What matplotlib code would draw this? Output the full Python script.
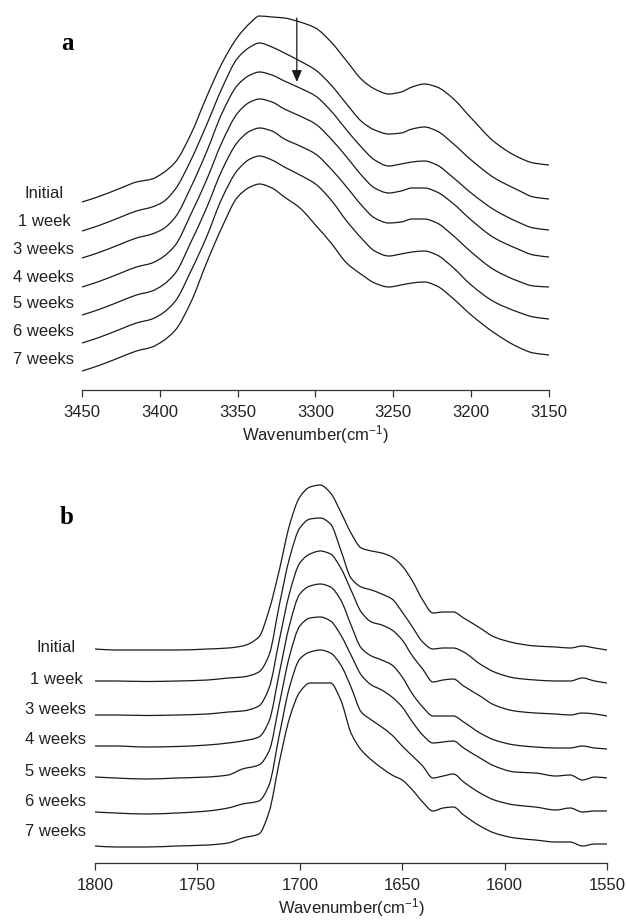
import numpy as np
import matplotlib
matplotlib.use("Agg")
import matplotlib.pyplot as plt
from matplotlib.path import Path
from matplotlib.patches import PathPatch

plt.rcParams["font.family"] = ["Liberation Sans", "DejaVu Sans"]
plt.rcParams["mathtext.fontset"] = "custom"
plt.rcParams["mathtext.rm"] = "Liberation Sans"
plt.rcParams["mathtext.default"] = "regular"

labels = ["Initial", "1 week", "3 weeks", "4 weeks", "5 weeks", "6 weeks", "7 weeks"]

# panel a: N-H stretching region (absorbance, a.u.)
wn_a = [3450, 3440, 3425, 3415, 3405, 3398, 3390, 3380, 3370, 3360, 3350, 3342,
        3336, 3328, 3320, 3310, 3300, 3290, 3280, 3270, 3262, 3253, 3245, 3238,
        3230, 3222, 3212, 3200, 3185, 3170, 3160, 3150]
nh_initial = [0.10, 0.15, 0.24, 0.30, 0.33, 0.39, 0.50, 0.78, 1.15, 1.49, 1.75, 1.89,
              1.96, 1.95, 1.94, 1.90, 1.84, 1.70, 1.51, 1.32, 1.23, 1.18, 1.20, 1.25,
              1.28, 1.25, 1.14, 0.94, 0.70, 0.55, 0.49, 0.47]
nh_1wk = [0.09, 0.14, 0.23, 0.29, 0.33, 0.38, 0.51, 0.80, 1.15, 1.52, 1.82, 1.93,
          1.97, 1.93, 1.87, 1.79, 1.70, 1.55, 1.36, 1.18, 1.10, 1.06, 1.07, 1.11,
          1.13, 1.09, 0.97, 0.80, 0.62, 0.50, 0.43, 0.41]
nh_3wk = [0.10, 0.15, 0.24, 0.30, 0.34, 0.39, 0.51, 0.81, 1.16, 1.55, 1.83, 1.93,
          1.96, 1.93, 1.87, 1.80, 1.72, 1.57, 1.38, 1.20, 1.08, 1.02, 1.04, 1.06,
          1.07, 1.03, 0.91, 0.75, 0.58, 0.46, 0.40, 0.38]
nh_4wk = [0.09, 0.14, 0.23, 0.29, 0.33, 0.39, 0.51, 0.82, 1.16, 1.54, 1.83, 1.94,
          1.97, 1.94, 1.87, 1.80, 1.72, 1.57, 1.39, 1.20, 1.08, 1.03, 1.05, 1.08,
          1.08, 1.04, 0.93, 0.76, 0.58, 0.47, 0.41, 0.39]
nh_5wk = [0.09, 0.14, 0.23, 0.29, 0.33, 0.39, 0.51, 0.82, 1.16, 1.54, 1.82, 1.93,
          1.96, 1.93, 1.85, 1.78, 1.70, 1.55, 1.37, 1.18, 1.06, 1.01, 1.02, 1.05,
          1.05, 1.01, 0.89, 0.72, 0.54, 0.43, 0.38, 0.37]
nh_6wk = [0.09, 0.14, 0.23, 0.29, 0.33, 0.39, 0.51, 0.81, 1.15, 1.54, 1.82, 1.93,
          1.96, 1.92, 1.85, 1.77, 1.68, 1.52, 1.31, 1.13, 1.01, 0.96, 0.98, 1.00,
          1.01, 0.97, 0.85, 0.67, 0.50, 0.40, 0.35, 0.33]
nh_7wk = [0.09, 0.14, 0.23, 0.29, 0.33, 0.39, 0.50, 0.78, 1.17, 1.53, 1.83, 1.93,
          1.96, 1.92, 1.83, 1.72, 1.55, 1.37, 1.17, 1.05, 0.97, 0.93, 0.95, 0.97,
          0.98, 0.94, 0.82, 0.65, 0.47, 0.33, 0.27, 0.25]

# panel b: amide I region
wn_b = [1800, 1790, 1775, 1760, 1745, 1735, 1728, 1720, 1715, 1710, 1705, 1700,
        1695, 1690, 1685, 1680, 1675, 1670, 1665, 1660, 1655, 1650, 1645, 1640,
        1635, 1630, 1625, 1620, 1612, 1605, 1595, 1585, 1575, 1568, 1562, 1556, 1550]
am_initial = [0.03, 0.02, 0.02, 0.02, 0.03, 0.04, 0.06, 0.15, 0.42, 0.82, 1.27, 1.55,
              1.65, 1.67, 1.59, 1.40, 1.19, 1.04, 1.01, 0.99, 0.95, 0.86, 0.71, 0.52,
              0.39, 0.40, 0.40, 0.34, 0.24, 0.15, 0.09, 0.06, 0.05, 0.04, 0.06, 0.04, 0.02]
am_1wk = [0.04, 0.04, 0.035, 0.04, 0.05, 0.07, 0.08, 0.13, 0.30, 0.80, 1.27, 1.57,
          1.66, 1.67, 1.61, 1.35, 1.07, 0.98, 0.95, 0.91, 0.86, 0.73, 0.58, 0.43,
          0.36, 0.37, 0.37, 0.33, 0.21, 0.13, 0.07, 0.05, 0.04, 0.04, 0.07, 0.04, 0.02]
am_3wk = [0.03, 0.03, 0.025, 0.03, 0.04, 0.06, 0.07, 0.12, 0.30, 0.78, 1.25, 1.55,
          1.64, 1.67, 1.64, 1.50, 1.28, 1.06, 0.96, 0.93, 0.88, 0.78, 0.62, 0.49,
          0.36, 0.38, 0.39, 0.32, 0.22, 0.13, 0.07, 0.05, 0.04, 0.03, 0.05, 0.04, 0.02]
am_4wk = [0.05, 0.05, 0.04, 0.045, 0.06, 0.08, 0.10, 0.14, 0.30, 0.78, 1.26, 1.57,
          1.65, 1.67, 1.64, 1.51, 1.26, 1.03, 0.95, 0.91, 0.86, 0.74, 0.57, 0.44,
          0.35, 0.35, 0.35, 0.29, 0.18, 0.11, 0.06, 0.04, 0.03, 0.03, 0.05, 0.03, 0.02]
am_5wk = [0.07, 0.06, 0.05, 0.06, 0.07, 0.09, 0.15, 0.19, 0.33, 0.80, 1.28, 1.58,
          1.66, 1.67, 1.63, 1.49, 1.29, 1.09, 0.99, 0.94, 0.87, 0.77, 0.62, 0.49,
          0.41, 0.42, 0.43, 0.36, 0.26, 0.18, 0.12, 0.11, 0.08, 0.09, 0.04, 0.07, 0.06]
am_6wk = [0.05, 0.04, 0.03, 0.04, 0.06, 0.09, 0.13, 0.16, 0.32, 0.82, 1.30, 1.58,
          1.65, 1.67, 1.64, 1.52, 1.30, 1.05, 0.97, 0.90, 0.82, 0.71, 0.61, 0.51,
          0.39, 0.41, 0.43, 0.35, 0.24, 0.17, 0.12, 0.10, 0.07, 0.09, 0.05, 0.06, 0.06]
am_7wk = [0.04, 0.03, 0.03, 0.04, 0.05, 0.07, 0.12, 0.16, 0.38, 0.88, 1.32, 1.58,
          1.67, 1.67, 1.67, 1.50, 1.17, 1.00, 0.90, 0.82, 0.75, 0.70, 0.60, 0.48,
          0.39, 0.42, 0.43, 0.35, 0.24, 0.17, 0.12, 0.10, 0.08, 0.08, 0.04, 0.06, 0.06]

ticks_a = [3450, 3400, 3350, 3300, 3250, 3200, 3150]
ticks_b = [1800, 1750, 1700, 1650, 1600, 1550]

W, H = 626, 924
LINE = "#1a1a1a"


def px_rect(left, top, right, bottom):
    return [left / W, 1 - bottom / H, (right - left) / W, (bottom - top) / H]


def tangents(x, y):
    # monotone (Fritsch-Carlson) slopes, so the path does not overshoot
    h = np.diff(x)
    d = np.diff(y) / h
    m = np.zeros_like(y)
    m[0], m[-1] = d[0], d[-1]
    for k in range(1, len(x) - 1):
        if d[k - 1] * d[k] > 0:
            w1 = 2 * h[k] + h[k - 1]
            w2 = h[k] + 2 * h[k - 1]
            m[k] = (w1 + w2) / (w1 / d[k - 1] + w2 / d[k])
    return m


def smooth_line(ax, x, y, **kw):
    # bezier path through the read points
    x = np.asarray(x, float)
    y = np.asarray(y, float)
    m = tangents(x, y)
    verts = [(x[0], y[0])]
    codes = [Path.MOVETO]
    for k in range(len(x) - 1):
        h = x[k + 1] - x[k]
        verts += [(x[k] + h / 3, y[k] + m[k] * h / 3),
                  (x[k + 1] - h / 3, y[k + 1] - m[k + 1] * h / 3),
                  (x[k + 1], y[k + 1])]
        codes += [Path.CURVE4] * 3
    ax.add_patch(PathPatch(Path(verts, codes), fill=False, **kw))


def draw_panel(ax, wn, spectra, step, xlim, ylim, ticks, label_x, label_y):
    n = len(spectra)
    for i, spec in enumerate(spectra):
        smooth_line(ax, wn, np.array(spec) + (n - 1 - i) * step,
                    edgecolor=LINE, lw=0.9)
        ax.text(label_x, label_y[i], labels[i], transform=ax.get_yaxis_transform(),
                ha="center", va="center", fontsize=12, color="#222222")
    ax.set_xlim(*xlim)
    ax.set_ylim(*ylim)
    for s in ["left", "right", "top"]:
        ax.spines[s].set_visible(False)
    ax.spines["bottom"].set_color("#333333")
    ax.spines["bottom"].set_linewidth(0.9)
    ax.set_yticks([])
    ax.set_xticks(ticks)
    ax.set_xticklabels([str(t) for t in ticks])
    ax.tick_params(axis="x", direction="out", length=5, width=0.9, color="#333333",
                   labelsize=12, pad=6, labelcolor="#222222")
    ax.set_xlabel("Wavenumber(cm$^{-1}$)", fontsize=12, labelpad=2, color="#222222")


fig = plt.figure(figsize=(W / 100, H / 100), dpi=100)

ax_a = fig.add_axes(px_rect(82, 8, 549, 390))
spec_a = [nh_initial, nh_1wk, nh_3wk, nh_4wk, nh_5wk, nh_6wk, nh_7wk]
label_y_a = [1.87, 1.59, 1.31, 1.03, 0.76, 0.48, 0.20]
draw_panel(ax_a, wn_a, spec_a, 0.28, (3450, 3150), (-0.10, 3.72), ticks_a,
           -0.0814, label_y_a)
ax_a.annotate("", xy=(3312, 2.98), xytext=(3312, 3.62),
              arrowprops=dict(arrowstyle="-|>,head_length=0.7,head_width=0.3",
                              color=LINE, lw=0.9, shrinkA=0, shrinkB=0))

ax_b = fig.add_axes(px_rect(95, 470, 607, 863))
spec_b = [am_initial, am_1wk, am_3wk, am_4wk, am_5wk, am_6wk, am_7wk]
label_y_b = [2.02, 1.71, 1.41, 1.10, 0.79, 0.49, 0.18]
draw_panel(ax_b, wn_b, spec_b, 0.33, (1800, 1550), (-0.13, 3.80), ticks_b,
           -0.0762, label_y_b)

fig.text(67 / W, 1 - 43 / H, "a", family="Liberation Serif", weight="bold",
         fontsize=18, ha="center", va="center")
fig.text(67 / W, 1 - 517 / H, "b", family="Liberation Serif", weight="bold",
         fontsize=18, ha="center", va="center")

fig.savefig("out.png", dpi=100)
